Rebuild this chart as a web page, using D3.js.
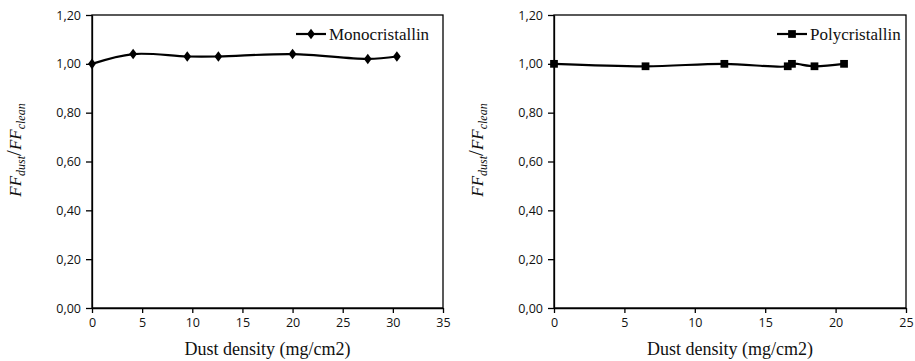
<!DOCTYPE html>
<html>
<head>
<meta charset="utf-8">
<script src="https://cdn.jsdelivr.net/npm/d3@7"></script>
<style>
  body { margin: 0; background: #fff; }
  .tick text { font-family: "Open Sans", sans-serif; font-size: 12.5px; fill: #111; }
</style>
</head>
<body>
<svg id="chart" width="915" height="361"></svg>
<script>
// Data
var monoDensity = [0, 4.1, 9.5, 12.6, 20.0, 27.5, 30.4];
var monoRatio   = [1.00, 1.04, 1.03, 1.03, 1.04, 1.02, 1.03];
var polyDensity = [0, 6.5, 12.1, 16.6, 16.9, 18.5, 20.6];
var polyRatio   = [1.00, 0.99, 1.00, 0.99, 1.00, 0.99, 1.00];
var yTicks = [0, 0.2, 0.4, 0.6, 0.8, 1.0, 1.2];
var monoXTicks = [0, 5, 10, 15, 20, 25, 30, 35];
var polyXTicks = [0, 5, 10, 15, 20, 25];

var serif = "'Liberation Serif', 'DejaVu Serif', 'Times New Roman', serif";
var svg = d3.select("#chart");

function panel(cfg) {
  var x = d3.scaleLinear().domain([0, cfg.xMax]).range([cfg.left, cfg.right]),
      y = d3.scaleLinear().domain([0, 1.2]).range([308, 15]);

  var g = svg.append("g");

  // plot area frame
  g.append("rect")
    .attr("x", cfg.left).attr("y", 15)
    .attr("width", cfg.right - cfg.left).attr("height", 293)
    .attr("fill", "none").attr("stroke", "#000").attr("stroke-width", 1.3);

  g.append("g")
    .attr("transform", "translate(" + cfg.left + ",0)")
    .call(d3.axisLeft(y).tickValues(yTicks).tickSize(6).tickSizeOuter(0)
      .tickFormat(function(d) { return d.toFixed(2).replace(".", ","); }))
    .call(function(a) {
      a.select(".domain").attr("stroke-width", 1.3);
      a.selectAll("line").attr("stroke-width", 1.3);
      a.selectAll("text").attr("x", -11);
    });

  g.append("g")
    .attr("transform", "translate(0,308)")
    .call(d3.axisBottom(x).tickValues(cfg.xTicks).tickSize(5).tickSizeOuter(0))
    .call(function(a) {
      a.select(".domain").attr("stroke-width", 1.3);
      a.selectAll("line").attr("stroke-width", 1.3);
      a.selectAll("text").attr("y", 10);
    });

  var pts = cfg.xs.map(function(d, i) { return [d, cfg.ys[i]]; });

  g.append("path")
    .datum(pts)
    .attr("fill", "none")
    .attr("stroke", "#000")
    .attr("stroke-width", 2.2)
    .attr("d", d3.line()
      .x(function(d) { return x(d[0]); })
      .y(function(d) { return y(d[1]); })
      .curve(d3.curveCatmullRom.alpha(0.5)));

  var sym = d3.symbol().type(cfg.symbol).size(cfg.symSize);
  var stretch = cfg.symbol === d3.symbolDiamond ? " scale(1.15,0.9)" : "";
  g.selectAll(".pt")
    .data(pts)
    .enter().append("path")
    .attr("class", "pt")
    .attr("transform", function(d) {
      return "translate(" + x(d[0]) + "," + y(d[1]) + ")" + stretch;
    })
    .attr("d", sym)
    .attr("fill", "#000");

  // legend
  var lg = g.append("g").attr("transform", "translate(" + cfg.legX + ",34)");
  lg.append("line").attr("x1", 0).attr("x2", 30)
    .attr("stroke", "#000").attr("stroke-width", 2.2);
  lg.append("path").attr("d", sym)
    .attr("transform", "translate(15,0)" + stretch)
    .attr("fill", "#000");
  lg.append("text")
    .attr("x", 33).attr("y", 6)
    .style("font-family", serif)
    .style("font-size", "17px")
    .attr("fill", "#111")
    .text(cfg.name);

  // x axis title
  g.append("text")
    .attr("x", (cfg.left + cfg.right) / 2).attr("y", 355)
    .attr("text-anchor", "middle")
    .style("font-family", serif)
    .style("font-size", "18px")
    .attr("fill", "#111")
    .text("Dust density (mg/cm2)");

  // y axis title FF_dust / FF_clean
  var yt = g.append("text")
    .attr("transform", "translate(" + (cfg.left - 71) + ",150) rotate(-90)")
    .attr("text-anchor", "middle")
    .style("font-family", serif)
    .style("font-style", "italic")
    .style("font-size", "17px")
    .attr("fill", "#111");
  yt.append("tspan").text("FF");
  yt.append("tspan").attr("dy", 4).style("font-size", "12px").text("dust");
  yt.append("tspan").attr("dy", -4).style("font-size", "21px").style("font-style", "normal").text("/");
  yt.append("tspan").text("FF");
  yt.append("tspan").attr("dy", 4).style("font-size", "12px").text("clean");
}

panel({ left: 92, right: 443, xMax: 35, xTicks: monoXTicks, xs: monoDensity, ys: monoRatio,
        symbol: d3.symbolDiamond, symSize: 40, legX: 296, name: "Monocristallin" });
panel({ left: 554, right: 906, xMax: 25, xTicks: polyXTicks, xs: polyDensity, ys: polyRatio,
        symbol: d3.symbolSquare, symSize: 60, legX: 777, name: "Polycristallin" });
</script>
</body>
</html>
